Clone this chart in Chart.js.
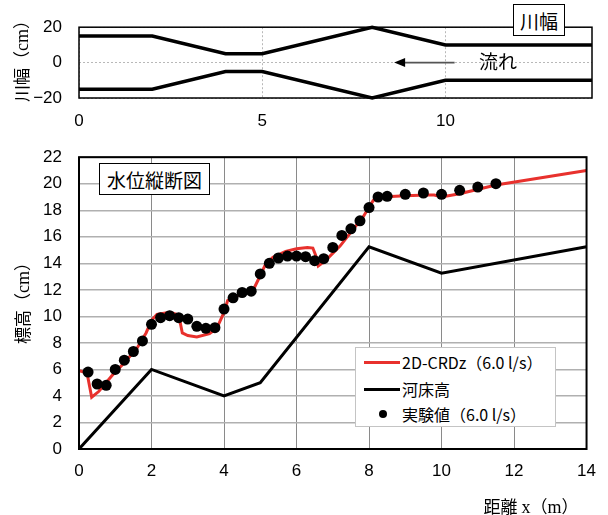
<!DOCTYPE html>
<html>
<head>
<meta charset="utf-8">
<script src="https://cdn.jsdelivr.net/npm/chart.js@4/dist/chart.umd.min.js"></script>
<style>
  html, body { margin: 0; padding: 0; background: #fff; }
  body {
    width: 608px; height: 515px; position: relative; overflow: hidden;
    font-family: "Noto Sans CJK JP", "Noto Sans", sans-serif; color: #000;
  }
  #widthWrap { position: absolute; left: 0; top: 0; width: 608px; height: 135px; }
  #profileWrap { position: absolute; left: 0; top: 130px; width: 608px; height: 385px; }
  canvas { display: block; }
  .box {
    position: absolute; background: #fff; border: 1.5px solid #000; box-sizing: border-box;
    display: flex; align-items: center; justify-content: center; line-height: 1; font-size: 19px;
  }
  .vtitle {
    position: absolute; white-space: nowrap; line-height: 1; font-size: 17px;
    transform: translate(-50%, -50%) rotate(-90deg);
  }
  .serif { font-family: "Liberation Serif", "DejaVu Serif", serif; font-size: 18px; }
  .lbl { position: absolute; transform: translate(-50%, -50%); line-height: 1; white-space: nowrap; }
  #legend {
    position: absolute; left: 355px; top: 347px; width: 201px; height: 80px;
    background: #fff; border: 1px solid #c4c4c4; box-sizing: border-box;
  }
  .legRow { position: absolute; left: 0; height: 20px; width: 100%; font-size: 16px; line-height: 20px; }
  .legRow .sw { position: absolute; left: 8px; top: 8.5px; width: 36px; height: 3px; }
  .legRow .dot { position: absolute; left: 23px; top: 6px; width: 8px; height: 8px; border-radius: 50%; background: #000; }
  .legRow .txt { position: absolute; left: 46px; top: 0; white-space: nowrap; }
</style>
</head>
<body>
<div id="widthWrap"><canvas id="widthChart" width="608" height="135"></canvas></div>
<div id="profileWrap"><canvas id="profileChart" width="608" height="385"></canvas></div>

<div class="vtitle" style="left:21px; top:57px;">川幅（<span class="serif">cm</span>）</div>
<div class="box" style="left:513px; top:4px; width:52px; height:32px;">川幅</div>
<div class="lbl" style="left:498px; top:60px; font-size:19px;">流れ</div>

<div class="vtitle" style="left:22px; top:299px;">標高（<span class="serif">cm</span>）</div>
<div class="box" style="left:99px; top:163px; width:111px; height:32px;">水位縦断図</div>
<div class="lbl" style="left:531px; top:506px; font-size:17px;">距離 <span class="serif">x</span>（<span class="serif">m</span>）</div>
<div id="legend"></div>

<script>
// ---- channel plan: bank lines (distance in m, half width in cm) ----
const bankX = [0, 2, 4, 5, 8, 10, 14];
const bankLeft = [15, 15, 5, 5, 20, 10, 10];
const bankRight = [-15, -15, -5, -5, -20, -10, -10];

// flow direction arrow, drawn along the centre line (m)
const arrowTail = 10.25;
const arrowHead = 8.6;

// ---- longitudinal profile (distance in m, elevation in cm) ----
const bedX = [0, 2, 4, 5, 8, 10, 14];
const bedY = [0, 6, 4, 5, 15.25, 13.25, 15.25];

const simX = [0, 0.22, 0.35, 0.55, 0.9, 1.25, 1.6, 1.85, 2.0, 2.15, 2.5, 2.75, 2.85, 3.0, 3.25, 3.6, 3.8, 4.0, 4.1, 4.3,
              4.8, 4.95, 5.15, 5.35, 5.7, 6.0, 6.3, 6.45, 6.53, 6.6, 6.8, 7.2, 7.85, 8.0, 8.12, 8.35, 9.0, 9.6, 9.8,
              10.0, 10.5, 11.5, 14];
const simY = [5.9, 5.75, 3.9, 4.35, 5.5, 6.5, 7.6, 8.75, 9.7, 10.15, 10.3, 10.1, 8.75, 8.55, 8.45, 8.7, 9.1, 10.3, 11.2, 11.5,
              11.95, 12.8, 13.95, 14.45, 14.9, 15.1, 15.2, 15.15, 14.6, 13.8, 14.2, 15.3, 17.55, 18.25, 18.75, 19.0, 19.1, 19.15, 19.15,
              19.0, 19.25, 19.9, 21.0];

const obsX = [0.25, 0.5, 0.75, 1.0, 1.25, 1.5, 1.75, 2.0, 2.25, 2.5, 2.75, 3.0, 3.25, 3.5, 3.75, 4.0,
              4.25, 4.5, 4.75, 5.0, 5.25, 5.5, 5.75, 6.0, 6.25, 6.5, 6.75, 7.0, 7.25, 7.5, 7.75, 8.0,
              8.25, 8.5, 9.0, 9.5, 10.0, 10.5, 11.0, 11.5];
const obsY = [5.8, 4.9, 4.8, 6.0, 6.7, 7.35, 8.15, 9.4, 9.9, 10.05, 9.9, 9.8, 9.25, 9.1, 9.15, 10.55,
              11.4, 11.8, 11.9, 13.2, 14.0, 14.4, 14.55, 14.55, 14.5, 14.2, 14.35, 15.2, 16.1, 16.6, 17.2, 18.2,
              19.0, 19.05, 19.2, 19.3, 19.2, 19.5, 19.75, 20.0];

const seriesLabels = ['2D-CRDz（6.0 l/s）', '河床高', '実験値（6.0 l/s）'];
const RED = '#e8312d';

const pairs = (xs, ys) => xs.map((x, i) => ({ x: x, y: ys[i] }));
const tickFont = { family: '"Liberation Sans", Arial, sans-serif', size: 17 };

// black frame around the plotting area
const frame = {
  id: 'frame',
  afterDraw(chart, args, opts) {
    const a = chart.chartArea, ctx = chart.ctx;
    ctx.save();
    ctx.strokeStyle = '#000';
    ctx.lineWidth = opts.width || 2;
    ctx.strokeRect(a.left, a.top, a.right - a.left, a.bottom - a.top);
    ctx.restore();
  }
};

// flow direction arrow on the plan view
const flowArrow = {
  id: 'flowArrow',
  afterDatasetsDraw(chart) {
    const xs = chart.scales.x, ys = chart.scales.y, ctx = chart.ctx;
    const x1 = xs.getPixelForValue(arrowTail), x2 = xs.getPixelForValue(arrowHead), y = ys.getPixelForValue(0);
    ctx.save();
    ctx.strokeStyle = '#555';
    ctx.lineWidth = 1.6;
    ctx.beginPath(); ctx.moveTo(x1, y); ctx.lineTo(x2 + 8, y); ctx.stroke();
    ctx.fillStyle = '#000';
    ctx.beginPath(); ctx.moveTo(x2, y); ctx.lineTo(x2 + 11, y - 4.5); ctx.lineTo(x2 + 11, y + 4.5); ctx.closePath(); ctx.fill();
    ctx.restore();
  }
};

new Chart(document.getElementById('widthChart'), {
  type: 'scatter',
  data: {
    datasets: [
      { data: pairs(bankX, bankLeft), showLine: true, borderColor: '#000', borderWidth: 3.5, pointRadius: 0, clip: 4 },
      { data: pairs(bankX, bankRight), showLine: true, borderColor: '#000', borderWidth: 3.5, pointRadius: 0, clip: 4 }
    ]
  },
  options: {
    responsive: false, animation: false,
    layout: { padding: { top: 20, right: 16, bottom: 0, left: 0 } },
    plugins: { legend: { display: false }, tooltip: { enabled: false }, frame: { width: 1.5 } },
    scales: {
      x: {
        type: 'linear', min: 0, max: 14,
        ticks: { stepSize: 5, includeBounds: false, padding: 13, color: '#000', font: tickFont, maxRotation: 0 },
        grid: { color: '#b8b8b8', lineWidth: 1, drawTicks: false },
        border: { display: false, dash: [2, 2] },
        afterFit(s) { s.height = 37; }
      },
      y: {
        min: -20, max: 20,
        ticks: { stepSize: 20, padding: 17, color: '#000', font: tickFont,
                 callback: v => String(v).replace('-', '−') },
        grid: { color: '#b8b8b8', lineWidth: 1, drawTicks: false },
        border: { display: false, dash: [2, 2] },
        afterFit(s) { s.width = 79; }
      }
    }
  },
  plugins: [frame, flowArrow]
});

const profile = new Chart(document.getElementById('profileChart'), {
  type: 'scatter',
  data: {
    datasets: [
      { label: seriesLabels[0], data: pairs(simX, simY), showLine: true, borderColor: RED, backgroundColor: RED,
        borderWidth: 3, pointRadius: 0, order: 1 },
      { label: seriesLabels[1], data: pairs(bedX, bedY), showLine: true, borderColor: '#000', backgroundColor: '#000',
        borderWidth: 3, pointRadius: 0, order: 2 },
      { label: seriesLabels[2], data: pairs(obsX, obsY), showLine: false, borderColor: '#000', backgroundColor: '#000',
        pointRadius: 5.5, pointBorderWidth: 0, order: 0 }
    ]
  },
  options: {
    responsive: false, animation: false,
    layout: { padding: { top: 11, right: 16, bottom: 0, left: 0 } },
    plugins: { legend: { display: false }, tooltip: { enabled: false }, frame: { width: 2 } },
    scales: {
      x: {
        type: 'linear', min: 0, max: 14,
        ticks: { stepSize: 2, padding: 12, color: '#000', font: tickFont, maxRotation: 0 },
        grid: { color: '#8a8a8a', lineWidth: 1, drawTicks: false },
        border: { display: false },
        afterFit(s) { s.height = 66; }
      },
      y: {
        min: 0, max: 22,
        ticks: { stepSize: 2, padding: 17, color: '#000', font: tickFont },
        grid: { color: '#b0b0b0', lineWidth: 1.5, drawTicks: false },
        border: { display: false },
        afterFit(s) { s.width = 79; }
      }
    }
  },
  plugins: [frame]
});

// legend box listing the three series
const legend = document.getElementById('legend');
const rowTops = [4, 31, 56];
profile.data.datasets.forEach((ds, i) => {
  const row = document.createElement('div');
  row.className = 'legRow';
  row.style.top = rowTops[i] + 'px';
  const mark = document.createElement('div');
  if (ds.showLine) { mark.className = 'sw'; mark.style.background = ds.borderColor; }
  else { mark.className = 'dot'; }
  const txt = document.createElement('div');
  txt.className = 'txt';
  txt.textContent = ds.label;
  row.appendChild(mark); row.appendChild(txt);
  legend.appendChild(row);
});
</script>
</body>
</html>
